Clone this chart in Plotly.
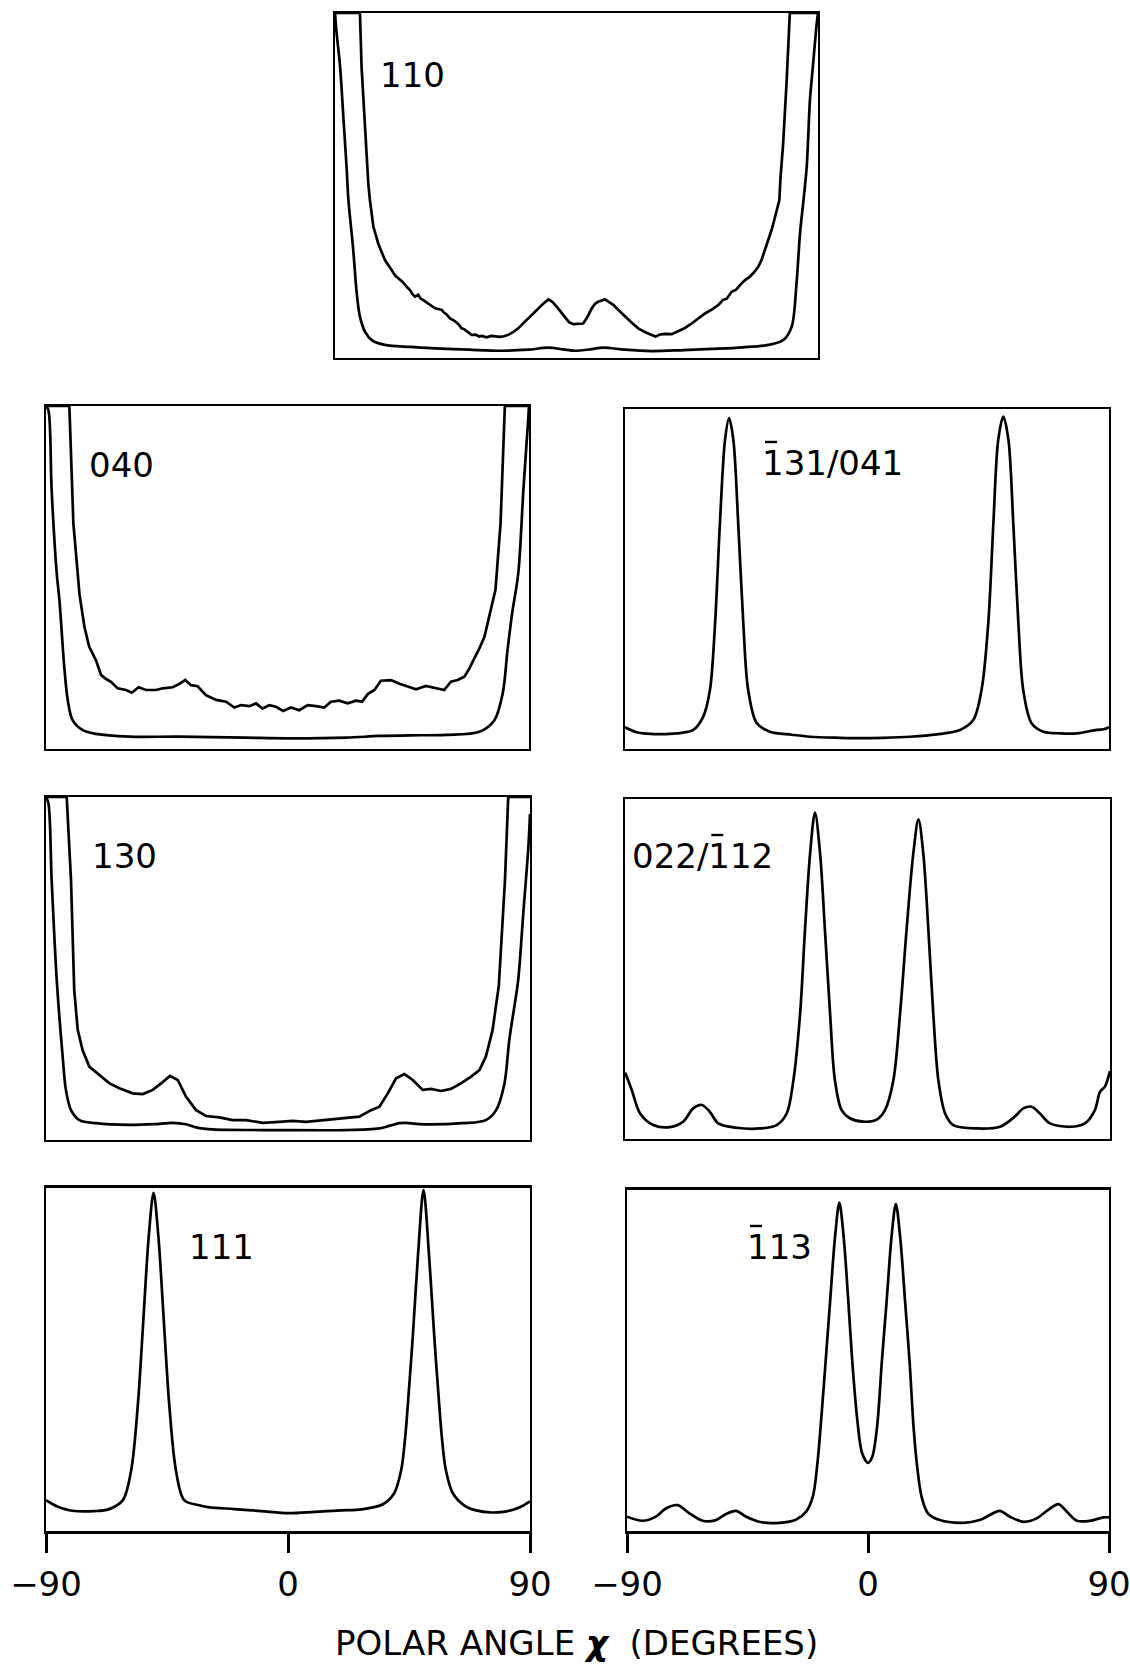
import plotly.graph_objects as go

W, H = 1130, 1667
FONT = "DejaVu Sans, Liberation Sans, sans-serif"

# ---------------- data (polar angle in degrees, normalised intensity) ----------------
tick_vals = [-90, 0, 90]
tick_text = ["\u221290", "0", "90"]

# 110
p110_outer_x = [-90, -89.5, -88.1, -86.9, -85.7, -85.0, -83.2, -81.9, -80.7, -78.8, -76.3, -71.4, -62, -52.7, -40,
                -27.9, -18, -10.5, -5, -0.6, 5, 10.0, 18, 28.0, 40, 52.9, 62, 71.5, 77.1, 80.2, 82.0, 83.3, 84.6,
                85.8, 87.0, 88.1, 89.4, 90]
p110_outer_y = [1.0, 0.95, 0.844, 0.70, 0.555, 0.458, 0.313, 0.188, 0.120, 0.076, 0.052, 0.038, 0.032, 0.028, 0.024,
                0.021, 0.024, 0.030, 0.025, 0.021, 0.025, 0.030, 0.024, 0.020, 0.023, 0.027, 0.031, 0.038, 0.052, 0.091,
                0.217, 0.361, 0.458, 0.555, 0.748, 0.845, 0.96, 1.0]
p110_inner_x = [-90, -80.7, -80.1, -78.8, -77.6, -77.0, -75.7, -73.9, -71.4, -68.9, -67.5, -66.4, -65.0, -63.3, -62.0,
                -61.2, -60.2, -59.0, -58.0, -57.1, -55.5, -54.0, -52.7, -51.5, -50.2, -49.3, -48.5, -47.1, -45.5,
                -44.0, -42.8, -41.8, -40.5, -39.1, -37.5, -36.3, -35.3, -33.5, -31.8, -30.4, -28.5, -27.0, -25.4,
                -23.8, -21.7, -19.8, -18.0, -16.1, -14.2, -12.3, -10.5, -9.0, -7.4, -5.8, -4.3, -2.8, -1.2, 0.6, 2.5,
                4.0, 5.7, 7.0, 8.1, 10.6, 12.2, 13.7, 15.9, 18.1, 20.5, 23.0, 25.5, 28.0, 29.5, 31.0, 33.0, 35.5,
                37.9, 40.4, 42.9, 45.4, 47.9, 50.4, 52.9, 54.5, 56.0, 57.8, 59.5, 61.0, 62.8, 64.5, 66.0, 67.8, 69.0,
                70.2, 71.5, 72.7, 73.7, 74.6, 75.6, 76.0, 77.0, 78.3, 79.5, 90]
p110_inner_y = [1.0, 1.0, 0.844, 0.652, 0.507, 0.458, 0.381, 0.332, 0.284, 0.255, 0.238, 0.231, 0.222, 0.207, 0.196,
                0.186, 0.178, 0.183, 0.172, 0.168, 0.160, 0.152, 0.144, 0.142, 0.139, 0.131, 0.127, 0.115, 0.108,
                0.098, 0.086, 0.083, 0.074, 0.067, 0.068, 0.062, 0.064, 0.060, 0.064, 0.062, 0.061, 0.063, 0.067,
                0.074, 0.086, 0.101, 0.115, 0.131, 0.144, 0.158, 0.170, 0.163, 0.149, 0.133, 0.120, 0.104, 0.098,
                0.100, 0.100, 0.118, 0.144, 0.158, 0.163, 0.170, 0.163, 0.154, 0.137, 0.120, 0.103, 0.086, 0.075,
                0.067, 0.062, 0.068, 0.070, 0.069, 0.077, 0.087, 0.100, 0.114, 0.129, 0.140, 0.154, 0.168, 0.172,
                0.192, 0.198, 0.212, 0.226, 0.235, 0.247, 0.265, 0.285, 0.313, 0.340, 0.371, 0.400, 0.429, 0.458,
                0.52, 0.62, 0.80, 1.0, 1.0]

# 040
p040_outer_x = [-90, -89.1, -87.9, -86.0, -85.0, -83.2, -81.9, -80.1, -76.3, -71.4, -58.9, -40.3, -15.5, -0.6, 21.8,
                34.2, 46, 59.1, 71.5, 77.1, 80.2, 82.0, 83.8, 86.0, 87.9, 89.7, 90]
p040_outer_y = [1.0, 0.988, 0.755, 0.512, 0.434, 0.240, 0.143, 0.084, 0.055, 0.044, 0.036, 0.036, 0.033, 0.031, 0.033,
                0.038, 0.040, 0.041, 0.050, 0.084, 0.162, 0.289, 0.40, 0.512, 0.755, 0.96, 1.0]
p040_inner_x = [-90, -81.3, -79.8, -77.5, -75.7, -73.9, -71.4, -69.5, -67.6, -65.8, -63.3, -60.2, -58.0, -55.5, -52.7,
                -49.0, -46.5, -42.8, -40.3, -38.1, -36.0, -33.5, -30.4, -26.6, -22.9, -19.8, -17.3, -14.2, -11.7,
                -9.3, -6.8, -4.3, -1.6, 1.3, 4.4, 7.5, 10.6, 13.7, 16.2, 19.3, 22.4, 25.5, 27.8, 29.9, 32.4, 34.8,
                38.6, 41.7, 44.8, 47.9, 51.6, 55.3, 58.4, 60.9, 63.4, 65.9, 67.8, 69.6, 71.5, 73.4, 75.2, 76.7, 77.5,
                79.4, 81.0, 90]
p040_inner_y = [1.0, 1.0, 0.658, 0.450, 0.357, 0.298, 0.259, 0.216, 0.204, 0.196, 0.177, 0.172, 0.164, 0.180, 0.172,
                0.172, 0.177, 0.180, 0.190, 0.201, 0.186, 0.183, 0.157, 0.143, 0.138, 0.121, 0.128, 0.125, 0.133,
                0.118, 0.128, 0.123, 0.111, 0.121, 0.113, 0.128, 0.125, 0.121, 0.138, 0.141, 0.133, 0.141, 0.138,
                0.160, 0.172, 0.199, 0.201, 0.190, 0.182, 0.174, 0.184, 0.177, 0.172, 0.196, 0.201, 0.211, 0.235,
                0.264, 0.293, 0.327, 0.386, 0.434, 0.464, 0.658, 1.0, 1.0]

# -131/041
p131_x = [-90, -86, -83.2, -77, -70.8, -64.6, -60.9, -58.4, -56.5, -54.7, -52.8, -51.3, -49.7, -47.9, -46.0, -44.2,
          -41.0, -36.1, -28, -21.2, -10, -2.6, 6, 16.0, 26, 34.6, 39.5, 42.6, 45.1, 47.0, 48.8, 50.7, 52.6, 54.4, 56.3,
          58.1, 61.2, 65.6, 72, 78.0, 85.4, 88, 90]
p131_y = [0.064, 0.050, 0.046, 0.044, 0.046, 0.056, 0.095, 0.174, 0.370, 0.664, 0.909, 0.973, 0.909, 0.664, 0.370,
          0.174, 0.076, 0.051, 0.042, 0.036, 0.033, 0.032, 0.033, 0.036, 0.043, 0.056, 0.085, 0.174, 0.370, 0.664,
          0.909, 0.978, 0.909, 0.664, 0.370, 0.174, 0.076, 0.051, 0.046, 0.046, 0.056, 0.058, 0.064]

# 130
p130_outer_x = [-90, -89.1, -87.9, -86.0, -83.8, -82.6, -80.7, -77.6, -71.4, -59.0, -50, -42.9, -38, -34.2,
                -28.0, -3.2, 21.6, 34.0, 38, 41.4, 44, 48.8, 65.0, 73.6, 77.4, 80.5, 82.3, 84.0, 85.6, 87.5, 89.4, 90]
p130_outer_y = [1.0, 0.982, 0.758, 0.466, 0.243, 0.146, 0.087, 0.058, 0.049, 0.044, 0.046, 0.050, 0.046, 0.037,
                0.031, 0.029, 0.029, 0.034, 0.042, 0.049, 0.050, 0.046, 0.049, 0.058, 0.087, 0.165, 0.292, 0.38,
                0.466, 0.661, 0.855, 0.95]
p130_inner_x = [-90, -82.3, -80.7, -79.5, -78.2, -76.4, -73.9, -70.2, -66.4, -62.7, -57.8, -54.0, -50.3, -47.2, -43.9,
                -41.0, -37.9, -34.2, -30.5, -25.5, -20.6, -15.6, -9.4, -3.2, 1.7, 6.7, 12.9, 19.1, 26.5, 30.9, 34.0,
                37.1, 40.2, 43.3, 46.4, 50.1, 53.2, 56.9, 60.6, 64.3, 68.1, 71.2, 73.6, 76.1, 78.4, 80.7, 81.9, 90]
p130_inner_y = [1.0, 1.0, 0.758, 0.437, 0.321, 0.262, 0.214, 0.190, 0.165, 0.151, 0.136, 0.134, 0.146, 0.165, 0.187,
                0.175, 0.126, 0.087, 0.070, 0.066, 0.058, 0.058, 0.050, 0.053, 0.056, 0.053, 0.058, 0.063, 0.068,
                0.087, 0.097, 0.136, 0.180, 0.192, 0.175, 0.146, 0.149, 0.143, 0.149, 0.165, 0.185, 0.204, 0.243,
                0.321, 0.45, 0.758, 1.0, 1.0]

# 022/-112
p022_x = [-90, -89.6, -87.5, -84.4, -79.5, -73.3, -68.4, -64.7, -61.5, -58.5, -55.4, -48.6, -39.9, -33.7, -30.0, -27.5,
          -25.0, -23.2, -21.3, -19.5, -17.6, -15.8, -13.9, -12.1, -9.6, -6.5, -1.6, 3.4, 6.5, 9.6, 12.1, 14.5, 17.0,
          18.9, 20.7, 22.6, 24.4, 26.3, 28.8, 31.8, 40.5, 49.2, 54.7, 57.8, 60.9, 64.0, 67.7, 75.2, 80.7, 84.4, 86.3,
          88.1, 90]
p022_y = [0.195, 0.188, 0.144, 0.075, 0.041, 0.035, 0.051, 0.090, 0.100, 0.080, 0.046, 0.033, 0.031, 0.041, 0.075,
          0.173, 0.370, 0.615, 0.840, 0.960, 0.840, 0.615, 0.370, 0.173, 0.085, 0.061, 0.051, 0.057, 0.085, 0.173,
          0.370, 0.615, 0.840, 0.940, 0.840, 0.615, 0.370, 0.173, 0.075, 0.041, 0.031, 0.036, 0.066, 0.090, 0.095,
          0.075, 0.046, 0.036, 0.046, 0.085, 0.139, 0.154, 0.200]

# 111
p111_x = [-90, -87.5, -85.6, -80.2, -72, -66.8, -61.4, -58.3, -55.8, -53.8, -51.8, -50.0, -48.2, -46.2, -44.2, -41.7,
          -38.6, -33, -29.2, -20, -10, 0.4, 10, 20, 27.3, 35.3, 39.5, 42.1, 43.6, 44.6, 46.4, 48.4, 50.4, 52.4, 54.4,
          56.2, 57.2, 58.7, 61.3, 65.5, 70, 75.6, 80, 83.7, 87, 90]
p111_y = [0.090, 0.078, 0.071, 0.059, 0.058, 0.063, 0.090, 0.178, 0.372, 0.615, 0.858, 0.986, 0.858, 0.615, 0.372,
          0.178, 0.090, 0.075, 0.069, 0.064, 0.058, 0.052, 0.056, 0.060, 0.063, 0.078, 0.110, 0.178, 0.275, 0.372,
          0.566, 0.810, 0.994, 0.810, 0.566, 0.372, 0.275, 0.178, 0.110, 0.075, 0.060, 0.054, 0.056, 0.062, 0.072,
          0.086]

# -113
p113_x = [-90, -84.2, -79.2, -75.5, -71.1, -66.7, -61.8, -56.8, -53.0, -49.3, -45.5, -40.6, -33.1, -26.8, -23.1, -20.6,
          -18.9, -17.3, -15.8, -14.2, -12.3, -10.7, -9.1, -7.3, -5.9, -4.0, -2.2, 0.0, 1.6, 3.4, 5.2, 6.9, 8.8, 10.4,
          12.0, 13.9, 15.5, 17.1, 18.5, 20.0, 22.4, 26.8, 35.5, 41.7, 45.5, 49.2, 53.0, 58.0, 63.0, 67.3, 71.1, 74.2,
          78.0, 83.0, 87.9, 90]
p113_y = [0.042, 0.030, 0.042, 0.066, 0.076, 0.052, 0.030, 0.032, 0.050, 0.059, 0.042, 0.027, 0.024, 0.034, 0.057,
          0.101, 0.198, 0.345, 0.500, 0.668, 0.863, 0.963, 0.863, 0.668, 0.500, 0.326, 0.228, 0.200, 0.218, 0.306,
          0.500, 0.668, 0.863, 0.959, 0.863, 0.668, 0.500, 0.296, 0.179, 0.101, 0.052, 0.032, 0.024, 0.032, 0.047,
          0.059, 0.042, 0.027, 0.037, 0.062, 0.079, 0.057, 0.030, 0.030, 0.040, 0.040]

labels = ["110", "040", "131/041", "130", "022/112", "111", "113"]
# index of the character carrying an overbar in each label (None = no bar)
bar_char = [None, None, 0, None, 4, None, 0]

# ---------------- layout geometry (pixels) ----------------
LABEL_SIZE = 34
panels = [
    dict(box=(335, 818, 13, 358), lab=(378, 75), curves=[(p110_outer_x, p110_outer_y, "spline"), (p110_inner_x, p110_inner_y, "linear")], bottom=False, thicktop=True),
    dict(box=(46, 529, 406, 749), lab=(87, 465), curves=[(p040_outer_x, p040_outer_y, "spline"), (p040_inner_x, p040_inner_y, "linear")], bottom=False, thicktop=True),
    dict(box=(625, 1109, 409, 749), lab=(760, 463), curves=[(p131_x, p131_y, "spline")], bottom=False, thicktop=False),
    dict(box=(46, 530, 797, 1140), lab=(90, 856), curves=[(p130_outer_x, p130_outer_y, "spline"), (p130_inner_x, p130_inner_y, "linear")], bottom=False, thicktop=True),
    dict(box=(625, 1110, 799, 1139), lab=(630, 856), curves=[(p022_x, p022_y, "spline")], bottom=False, thicktop=False),
    dict(box=(46, 530, 1188, 1531), lab=(187, 1247), curves=[(p111_x, p111_y, "spline")], bottom=True, thicktop=False),
    dict(box=(627, 1109, 1190, 1531), lab=(745, 1247), curves=[(p113_x, p113_y, "spline")], bottom=True, thicktop=False),
]

# approximate advance widths (em) of the label characters in DejaVu Sans
ADV = {"/": 0.337}
def char_left(text, idx):
    return sum(ADV.get(c, 0.636) for c in text[:idx]) * LABEL_SIZE

fig = go.Figure()
layout = dict(template="none", width=W, height=H, margin=dict(l=0, r=0, t=0, b=0, pad=0),
              paper_bgcolor="white", plot_bgcolor="white", showlegend=False,
              font=dict(family=FONT, color="black"))
annotations = []
shapes = []
extra_axis = 20

for i, p in enumerate(panels):
    n = "" if i == 0 else str(i + 1)
    L, R, T, B = p["box"]
    for xs, ys, shape in p["curves"]:
        fig.add_trace(go.Scatter(x=xs, y=ys, mode="lines", xaxis="x" + n, yaxis="y" + n,
                                 line=dict(color="black", width=2.7, shape=shape, smoothing=0.9),
                                 hoverinfo="skip"))
    layout["xaxis" + n] = dict(domain=[L / W, R / W], range=[-90, 90], anchor="y" + n, automargin=False,
                               showline=True, mirror=True, linecolor="black",
                               linewidth=2.8 if p["bottom"] else 2.2,
                               showgrid=False, zeroline=False, fixedrange=True,
                               ticks="outside" if p["bottom"] else "",
                               tickvals=tick_vals if p["bottom"] else [],
                               ticktext=tick_text if p["bottom"] else [],
                               showticklabels=p["bottom"], ticklen=19, tickwidth=2.5, tickcolor="black",
                               ticklabelstandoff=2, ticklabeloverflow="allow",
                               tickfont=dict(family=FONT, size=34, color="black"))
    layout["yaxis" + n] = dict(domain=[1 - B / H, 1 - T / H], range=[0, 1], anchor="x" + n, automargin=False,
                               showline=True, mirror=True, linecolor="black", linewidth=2.2,
                               showgrid=False, zeroline=False, showticklabels=False, ticks="",
                               fixedrange=True)
    if p["thicktop"]:
        # heavier top frame edge, as in the original
        layout["xaxis" + str(extra_axis)] = dict(overlaying="x" + n, anchor="y" + n, side="top",
                                                  range=[-90, 90], showline=True, linecolor="black",
                                                  linewidth=4, showgrid=False, zeroline=False,
                                                  showticklabels=False, ticks="", automargin=False,
                                                  fixedrange=True)
        extra_axis += 1
    lx, ly = p["lab"]
    annotations.append(dict(text=labels[i], x=lx / W, y=1 - ly / H, xref="paper", yref="paper",
                            xanchor="left", yanchor="middle", showarrow=False,
                            font=dict(family=FONT, size=LABEL_SIZE, color="black")))
    if bar_char[i] is not None:
        x0 = lx + char_left(labels[i], bar_char[i]) + 5
        x1 = x0 + 12
        yb = ly - 21
        shapes.append(dict(type="line", xref="paper", yref="paper", x0=x0 / W, x1=x1 / W,
                           y0=1 - yb / H, y1=1 - yb / H, line=dict(color="black", width=2.4)))

annotations.append(dict(text="POLAR ANGLE <b><i>\u03c7</i></b>\u00a0\u00a0(DEGREES)", x=576 / W, y=1 - 1643 / H,
                        xref="paper", yref="paper", xanchor="center", yanchor="middle", showarrow=False,
                        font=dict(family=FONT, size=34, color="black")))
layout["annotations"] = annotations
layout["shapes"] = shapes
fig.update_layout(**layout)
fig.write_html("out.html")
